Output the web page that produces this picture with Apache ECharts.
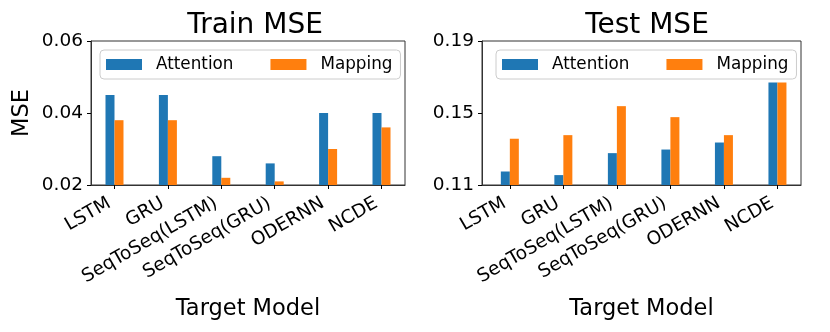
<!DOCTYPE html>
<html>
<head>
<meta charset="utf-8">
<script src="https://cdn.jsdelivr.net/npm/echarts@6/dist/echarts.min.js"></script>
<style>
  html, body { margin: 0; padding: 0; background: #fff; }
  #chart { width: 830px; height: 332px; }
</style>
</head>
<body>
<div id="chart"></div>
<script>
// data
const categories = ["LSTM", "GRU", "SeqToSeq(LSTM)", "SeqToSeq(GRU)", "ODERNN", "NCDE"];
const trainAttention = [0.045, 0.045, 0.028, 0.026, 0.040, 0.040];
const trainMapping = [0.038, 0.038, 0.022, 0.021, 0.030, 0.036];
const testAttention = [0.1175, 0.1155, 0.1277, 0.1297, 0.1336, 0.1669];
const testMapping = [0.1357, 0.1377, 0.1538, 0.1477, 0.1377, 0.1669];
const trainTicks = [0.02, 0.04, 0.06];
const testTicks = [0.11, 0.15, 0.19];

const FONT = "DejaVu Sans";
const BLUE = "#1f77b4", ORANGE = "#ff7f0e";
const catIdx = categories.map((c, i) => i);

function pairs(vals) {
  return vals.map((v, i) => [i, v]);
}

function xAxisFor(gridIndex, min, max) {
  return {
    gridIndex: gridIndex,
    type: "value",
    min: min,
    max: max,
    name: "Target Model",
    nameLocation: "middle",
    nameGap: 113,
    nameTextStyle: { fontFamily: FONT, fontSize: 22.5, color: "#000" },
    axisLine: { show: true, onZero: false, lineStyle: { color: "#333", width: 1 } },
    splitLine: { show: false },
    axisTick: { show: true, length: 4, customValues: catIdx, lineStyle: { color: "#000", width: 1 } },
    axisLabel: {
      customValues: catIdx,
      rotate: 30,
      margin: 14,
      padding: [0, 6, 0, 0],
      fontFamily: FONT,
      fontSize: 18.5,
      color: "#000",
      formatter: function (v) { return categories[Math.round(v)]; }
    }
  };
}

function yAxisFor(gridIndex, ticks, name) {
  return {
    gridIndex: gridIndex,
    type: "value",
    min: ticks[0],
    max: ticks[ticks.length - 1],
    interval: ticks[1] - ticks[0],
    name: name,
    nameLocation: "middle",
    nameGap: 57,
    nameTextStyle: { fontFamily: FONT, fontSize: 22.5, color: "#000" },
    axisLine: { show: true, onZero: false, lineStyle: { color: "#333", width: 1 } },
    splitLine: { show: false },
    axisTick: { show: true, length: 4, lineStyle: { color: "#000", width: 1 } },
    axisLabel: {
      margin: 8,
      fontFamily: FONT,
      fontSize: 18.5,
      color: "#000",
      formatter: function (v) { return v.toFixed(2); }
    }
  };
}

function legendFor(left) {
  return {
    left: left,
    top: 50,
    data: ["Attention", "Mapping"],
    icon: "rect",
    itemWidth: 36,
    itemHeight: 11,
    itemGap: 37,
    padding: [6, 8, 6, 6],
    borderColor: "#cccccc",
    borderWidth: 1,
    borderRadius: 4,
    backgroundColor: "rgba(255,255,255,0.8)",
    textStyle: { fontFamily: FONT, fontSize: 16.8, color: "#000", padding: [0, 0, 0, 9] }
  };
}

const chart = echarts.init(document.getElementById("chart"));
chart.setOption({
  animation: false,
  color: [BLUE, ORANGE],
  title: [
    { text: "Train MSE", left: 250, top: 7, textAlign: "center",
      textStyle: { fontFamily: FONT, fontSize: 28, fontWeight: "normal", color: "#000" } },
    { text: "Test MSE", left: 642, top: 7, textAlign: "center",
      textStyle: { fontFamily: FONT, fontSize: 28, fontWeight: "normal", color: "#000" } }
  ],
  legend: [
    Object.assign(legendFor(100), { id: "l0" }),
    Object.assign(legendFor(496), { id: "l1" })
  ],
  grid: [
    { left: 91, top: 41, width: 314, height: 144, show: true, borderColor: "#333", borderWidth: 1, backgroundColor: "transparent" },
    { left: 482, top: 41, width: 319, height: 144, show: true, borderColor: "#333", borderWidth: 1, backgroundColor: "transparent" }
  ],
  xAxis: [xAxisFor(0, -0.44, 5.44), xAxisFor(1, -0.52, 5.44)],
  yAxis: [yAxisFor(0, trainTicks, "MSE"), yAxisFor(1, testTicks, "")],
  series: [
    { name: "Attention", type: "bar", xAxisIndex: 0, yAxisIndex: 0, barWidth: 9, barGap: "0%", data: pairs(trainAttention) },
    { name: "Mapping", type: "bar", xAxisIndex: 0, yAxisIndex: 0, barWidth: 9, barGap: "0%", data: pairs(trainMapping) },
    { name: "Attention", type: "bar", xAxisIndex: 1, yAxisIndex: 1, barWidth: 9, barGap: "0%", data: pairs(testAttention) },
    { name: "Mapping", type: "bar", xAxisIndex: 1, yAxisIndex: 1, barWidth: 9, barGap: "0%", data: pairs(testMapping) }
  ]
});
</script>
</body>
</html>
